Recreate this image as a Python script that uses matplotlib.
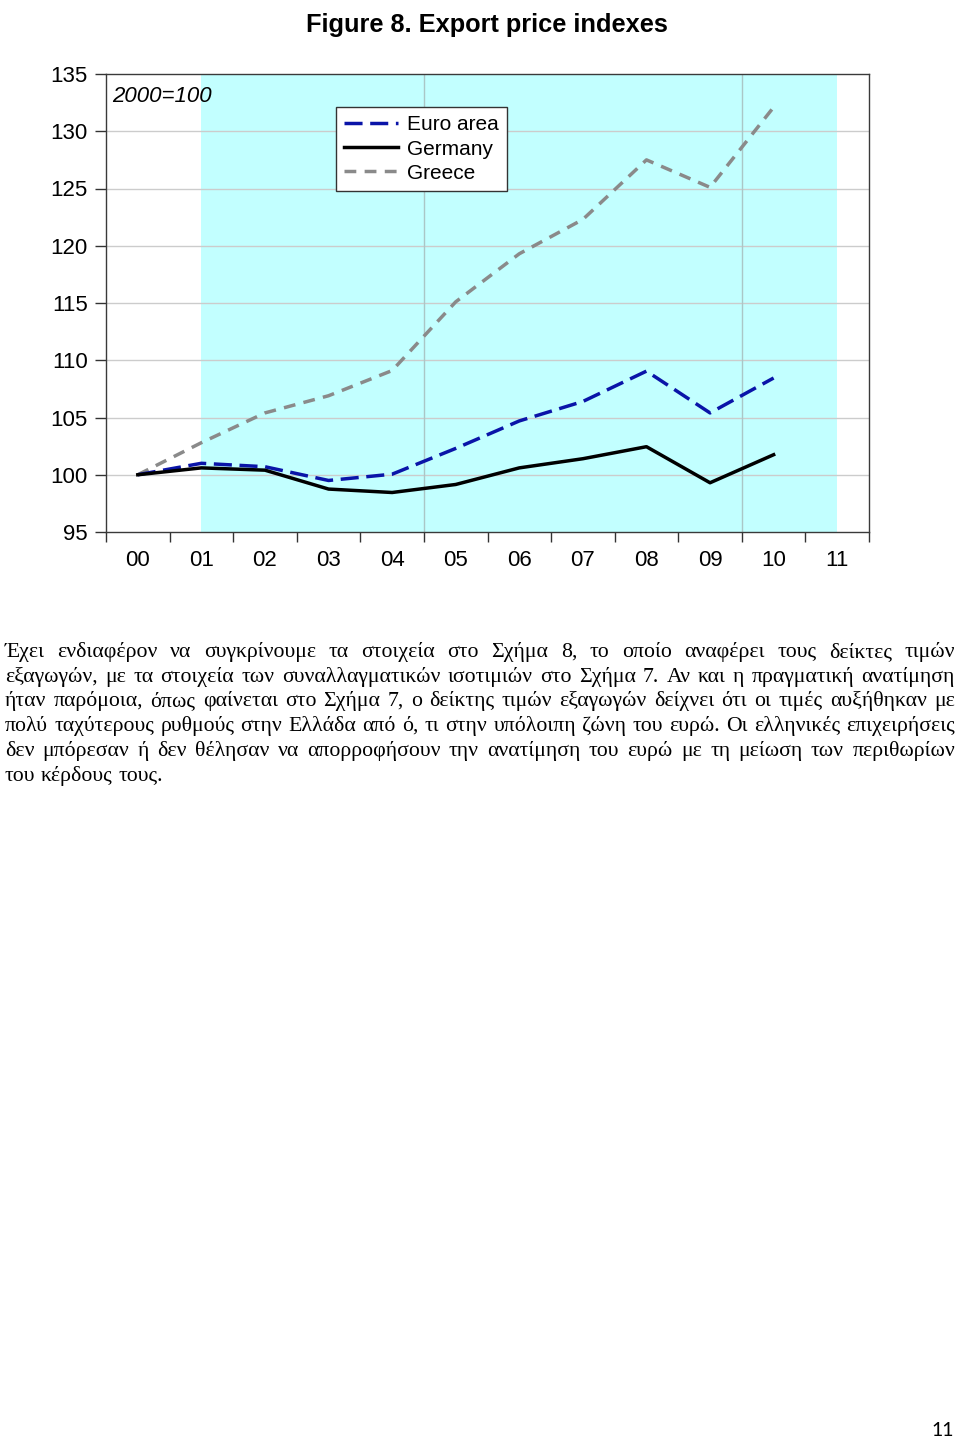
import matplotlib
matplotlib.use('Agg')
import matplotlib.pyplot as plt
import numpy as np

# export price indexes, 2000=100
years = np.arange(0, 11)
year_labels = ['00', '01', '02', '03', '04', '05', '06', '07', '08', '09', '10', '11']
euro_area = [100.0, 101.0, 100.7, 99.5, 100.05, 102.3, 104.7, 106.4, 109.05, 105.4, 108.45]
germany = [100.0, 100.6, 100.4, 98.75, 98.45, 99.15, 100.6, 101.4, 102.45, 99.3, 101.75]
greece = [100.0, 102.8, 105.4, 106.9, 109.1, 115.1, 119.3, 122.3, 127.5, 125.1, 132.1]

paragraph = [
    "Έχει ενδιαφέρον να συγκρίνουμε τα στοιχεία στο Σχήμα 8, το οποίο αναφέρει τους δείκτες τιμών",
    "εξαγωγών, με τα στοιχεία των συναλλαγματικών ισοτιμιών στο Σχήμα 7. Αν και η πραγματική ανατίμηση",
    "ήταν παρόμοια, όπως φαίνεται στο Σχήμα 7, ο δείκτης τιμών εξαγωγών δείχνει ότι οι τιμές αυξήθηκαν με",
    "πολύ ταχύτερους ρυθμούς στην Ελλάδα από ό, τι στην υπόλοιπη ζώνη του ευρώ. Οι ελληνικές επιχειρήσεις",
    "δεν μπόρεσαν ή δεν θέλησαν να απορροφήσουν την ανατίμηση του ευρώ με τη μείωση των περιθωρίων",
    "του κέρδους τους.",
]

W, H = 960, 1438
SANS = ['Liberation Sans', 'DejaVu Sans']
SERIF = ['Liberation Serif', 'DejaVu Serif']


def draw_justified(fig, lines, x0, x1, baselines, size):
    renderer = fig.canvas.get_renderer()
    probe1 = fig.text(0, 0, 'a a', family=SERIF, size=size)
    probe2 = fig.text(0, 0, 'aa', family=SERIF, size=size)
    space = probe1.get_window_extent(renderer).width - probe2.get_window_extent(renderer).width
    probe1.remove()
    probe2.remove()
    for i, line in enumerate(lines):
        words = line.split()
        y = 1 - baselines[i] / H
        texts = [fig.text(0, y, w, family=SERIF, size=size, va='baseline', ha='left') for w in words]
        widths = [t.get_window_extent(renderer).width for t in texts]
        if i == len(lines) - 1 or len(words) < 2:
            gap = space
        else:
            gap = (x1 - x0 - sum(widths)) / (len(words) - 1)
        x = x0
        for t, w in zip(texts, widths):
            t.set_x(x / W)
            x += w + gap


def main():
    fig = plt.figure(figsize=(9.6, 14.38), dpi=100)
    ax = fig.add_axes([106 / W, 1 - 532 / H, 763 / W, 458 / H])

    ax.axvspan(1, 11, color='#c2ffff', lw=0, zorder=0)
    for yv in range(100, 135, 5):
        ax.axhline(yv, color='#cccccc', lw=1.0, zorder=1)
    for xv in [4.5, 9.5]:
        ax.axvline(xv, color='#aac6c6', lw=1.0, zorder=1)

    ax.plot(years, euro_area, color='#0a14a8', lw=2.5, dashes=(5.2, 2.2), label='Euro area', zorder=3)
    ax.plot(years, germany, color='black', lw=2.5, label='Germany', zorder=3)
    ax.plot(years, greece, color='#8a8a8a', lw=2.5, dashes=(3.4, 2.4), label='Greece', zorder=2)

    ax.set_xlim(-0.5, 11.5)
    ax.set_ylim(95, 135)
    ax.set_yticks(range(95, 136, 5))
    ax.set_xticks(range(12))
    ax.set_xticklabels(year_labels)
    ax.set_xticks(np.arange(-0.5, 12, 1), minor=True)
    ax.tick_params(axis='x', which='major', length=0, pad=13, labelsize=16)
    ax.tick_params(axis='x', which='minor', length=7, width=1.0, direction='out', color='#333333')
    ax.tick_params(axis='y', length=8, width=1.0, pad=5, labelsize=16, color='#333333')
    for lab in ax.get_xticklabels() + ax.get_yticklabels():
        lab.set_family(SANS)
    for sp in ax.spines.values():
        sp.set_color('#3a3a3a')
        sp.set_linewidth(1.0)

    ax.text(0.008, 0.95, '2000=100', transform=ax.transAxes, style='italic',
            family=SANS, size=16, va='center', ha='left')

    leg = ax.legend(loc='upper left', bbox_to_anchor=(0.3014, 0.928), fancybox=False,
                    framealpha=1, edgecolor='#333333', prop={'family': SANS, 'size': 15},
                    handlelength=2.6, handletextpad=0.4, labelspacing=0.25,
                    borderpad=0.4, borderaxespad=0)
    leg.get_frame().set_linewidth(1.0)

    fig.text(487 / W, 1 - 25 / H, 'Figure 8. Export price indexes', family=SANS,
             weight='bold', size=18.3, ha='center', va='center')

    draw_justified(fig, paragraph, 5, 955, [657, 682, 706, 731, 756, 781], 15.7)

    fig.text(943 / W, 1 - 1430 / H, '11', family=['Lato', 'DejaVu Sans'], size=14,
             ha='center', va='center')

    fig.savefig('out.png', dpi=100)


if __name__ == "__main__":
    main()
